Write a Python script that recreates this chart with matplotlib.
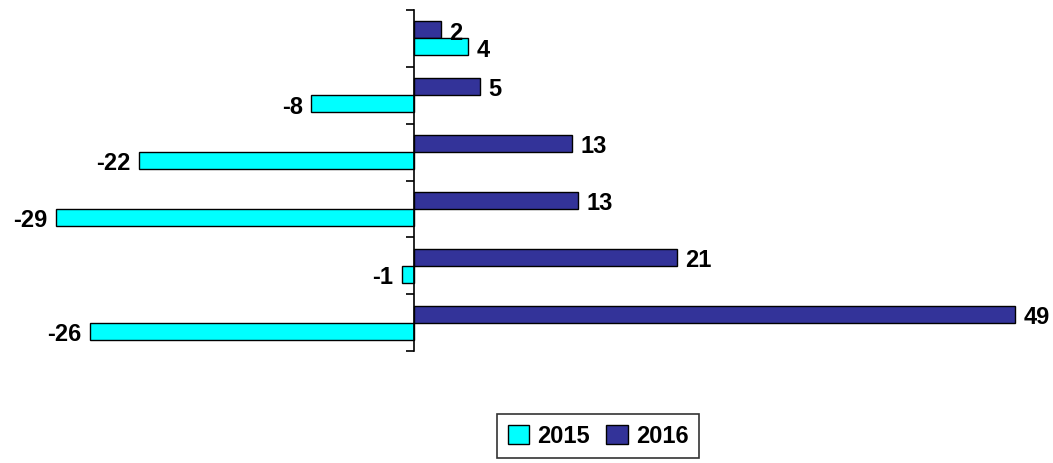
import matplotlib
matplotlib.use('Agg')
import matplotlib.pyplot as plt
import numpy as np

plt.rcParams['font.family'] = ['Liberation Sans', 'DejaVu Sans']

# values (top row first), labels show rounded values
series_names = ['2015', '2016']
vals_2015 = [4.4, -8.4, -22.4, -29.2, -1.0, -26.4]
vals_2016 = [2.2, 5.4, 12.9, 13.4, 21.4, 49.0]

col_2015 = '#00FFFF'
col_2016 = '#333399'

fig = plt.figure(figsize=(10.53, 4.64), dpi=100)
ax = fig.add_axes([46 / 1053, 1 - 352 / 464, (1027.5 - 46) / 1053, (352 - 11) / 464])

idx = np.arange(len(vals_2015))
h = 0.3
b16 = ax.barh(idx - h / 2, vals_2016, height=h, color=col_2016, edgecolor='black',
              linewidth=1, label=series_names[1])
b15 = ax.barh(idx + h / 2, vals_2015, height=h, color=col_2015, edgecolor='black',
              linewidth=1, label=series_names[0])

def put_labels(bars, vals):
    for rect, v in zip(bars, vals):
        y = rect.get_y() + rect.get_height() / 2 + 0.04
        if v >= 0:
            ax.annotate('%d' % round(v), (v, y), xytext=(6, 0), textcoords='offset points',
                        ha='left', va='center', fontsize=17, fontweight='bold')
        else:
            ax.annotate('%d' % round(v), (v, y), xytext=(-6, 0), textcoords='offset points',
                        ha='right', va='center', fontsize=17, fontweight='bold')

put_labels(b16, vals_2016)
put_labels(b15, vals_2015)

ax.set_xlim(-30, 50)
ax.set_ylim(len(idx) - 0.5, -0.5)

for s in ['top', 'right', 'bottom']:
    ax.spines[s].set_visible(False)
ax.spines['left'].set_position(('data', 0))
ax.spines['left'].set_linewidth(1.2)
ax.set_xticks([])
ax.set_yticks(np.arange(-0.5, len(idx), 1.0))
ax.set_yticklabels([])
ax.tick_params(axis='y', direction='out', length=6, width=1.2)

leg = fig.legend(handles=[b15, b16], labels=series_names, ncol=2,
                 loc='center', bbox_to_anchor=(598 / 1053, 1 - 437 / 464),
                 frameon=True, fancybox=False, edgecolor='black',
                 handlelength=0.9, handleheight=0.9, handletextpad=0.35,
                 columnspacing=0.7, borderpad=0.45,
                 prop={'size': 17, 'weight': 'bold'})
leg.get_frame().set_linewidth(1.2)

fig.savefig('out.png', dpi=100)
